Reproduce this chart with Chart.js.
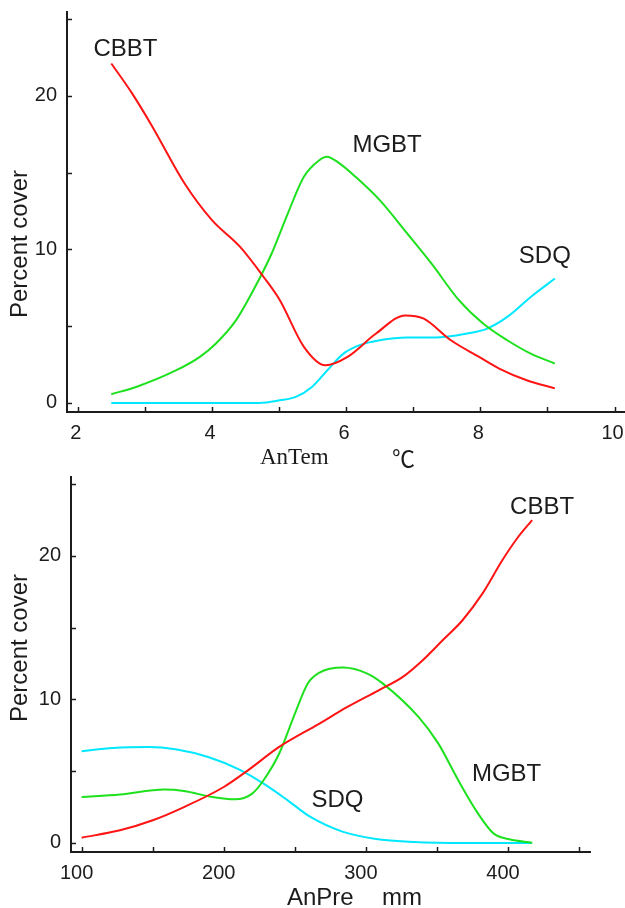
<!DOCTYPE html>
<html>
<head>
<meta charset="utf-8">
<script src="https://cdn.jsdelivr.net/npm/chart.js@4.4.1/dist/chart.umd.min.js"></script>
<style>
  html, body { margin: 0; padding: 0; background: #fff; }
  .box { position: absolute; left: 0; width: 625px; }
  #top { top: 0; height: 470px; }
  #bottom { top: 470px; height: 438px; }
</style>
</head>
<body>
<div class="box" id="top"><canvas id="temChart"></canvas></div>
<div class="box" id="bottom"><canvas id="preChart"></canvas></div>
<script>
// annual temperature panel (x in degrees C, y percent cover)
const temCbbtX = [2.5, 2.81, 3.11, 3.59, 4.0, 4.42, 4.77, 5.01, 5.37, 5.69, 6.02, 6.44, 6.88, 7.15, 7.56, 7.98, 8.28, 8.69, 9.11];
const temCbbtY = [22.1, 20.15, 18.0, 14.3, 11.9, 10.16, 8.2, 6.7, 3.65, 2.45, 3.0, 4.5, 5.7, 5.5, 4.08, 3.0, 2.24, 1.48, 0.95];
const temMgbtX = [2.5, 2.87, 3.47, 3.82, 4.06, 4.36, 4.59, 4.89, 5.13, 5.37, 5.6, 5.71, 5.9, 6.14, 6.5, 6.91, 7.27, 7.68, 8.04, 8.4, 8.75, 9.11];
const temMgbtY = [0.57, 1.04, 2.13, 3.0, 3.87, 5.39, 7.12, 9.73, 12.33, 14.72, 15.8, 16.03, 15.6, 14.72, 13.2, 11.03, 9.08, 6.69, 5.17, 4.08, 3.21, 2.56];
const temSdqX = [2.5, 3.5, 4.71, 5.01, 5.25, 5.49, 5.72, 5.96, 6.2, 6.5, 6.91, 7.33, 7.8, 8.1, 8.4, 8.75, 9.11];
const temSdqY = [0, 0, 0, 0.17, 0.39, 1.04, 2.13, 3.21, 3.76, 4.08, 4.26, 4.26, 4.52, 4.84, 5.6, 6.9, 8.1];

// annual precipitation panel (x in mm)
const preCbbtX = [100, 127, 150, 172, 200, 217, 239, 267, 287, 309, 326, 340, 354, 368, 382, 396, 407, 417];
const preCbbtY = [0.37, 0.88, 1.58, 2.5, 3.9, 5.06, 6.69, 8.3, 9.48, 10.64, 11.57, 12.73, 14.12, 15.52, 17.37, 19.7, 21.3, 22.5];
const preMgbtX = [100, 127, 158, 172, 192, 208, 220, 228, 239, 250, 259, 267, 284, 301, 312, 337, 351, 365, 379, 390, 401, 417];
const preMgbtY = [3.2, 3.37, 3.72, 3.62, 3.2, 3.04, 3.44, 4.37, 6.23, 9.0, 11.1, 11.85, 12.22, 11.8, 11.1, 8.78, 6.92, 4.37, 2.04, 0.65, 0.26, 0.02];
const preSdqX = [100, 122, 147, 166, 189, 211, 228, 245, 261, 284, 306, 334, 370, 417];
const preSdqY = [6.39, 6.62, 6.69, 6.53, 5.99, 5.11, 4.13, 2.97, 1.81, 0.77, 0.3, 0.07, 0, 0];

const yLabelTicks = [0, 10, 20];
const temLabelTicks = [2, 4, 6, 8, 10];
const preLabelTicks = [100, 200, 300, 400];

const RED = 'rgb(255,20,20)';
const GREEN = 'rgb(30,225,30)';
const CYAN = 'rgb(0,232,255)';
const INK = '#1c1c1c';
const SANS = '"Liberation Sans", Arial, sans-serif';

Chart.defaults.font.family = SANS;
Chart.defaults.color = INK;

const pts = (xs, ys) => xs.map((x, i) => ({x: x, y: ys[i]}));

const line = (label, xs, ys, color) => ({
    label: label,
    data: pts(xs, ys),
    borderColor: color,
    borderWidth: 2,
    pointRadius: 0,
    fill: false,
    cubicInterpolationMode: 'monotone',
});

// tick marks point into the plot, like the printed figure
const inwardTicks = {
    id: 'inwardTicks',
    afterDraw(chart) {
        const ctx = chart.ctx;
        const area = chart.chartArea;
        ctx.save();
        ctx.strokeStyle = INK;
        ctx.lineWidth = 1.5;
        chart.scales.x.ticks.forEach(t => {
            const px = Math.round(chart.scales.x.getPixelForValue(t.value)) + 0.5;
            ctx.beginPath();
            ctx.moveTo(px, area.bottom);
            ctx.lineTo(px, area.bottom - 5);
            ctx.stroke();
        });
        chart.scales.y.ticks.forEach(t => {
            const py = Math.round(chart.scales.y.getPixelForValue(t.value)) + 0.5;
            ctx.beginPath();
            ctx.moveTo(area.left, py);
            ctx.lineTo(area.left + 5, py);
            ctx.stroke();
        });
        ctx.restore();
    }
};

// curve names sit next to their lines, at data coordinates
const curveNames = {
    id: 'curveNames',
    afterDraw(chart, args, opts) {
        const ctx = chart.ctx;
        ctx.save();
        ctx.fillStyle = INK;
        ctx.font = '24px ' + SANS;
        ctx.textAlign = 'center';
        ctx.textBaseline = 'middle';
        (opts.items || []).forEach(it => {
            ctx.fillText(it.text, chart.scales.x.getPixelForValue(it.x), chart.scales.y.getPixelForValue(it.y));
        });
        ctx.restore();
    }
};

// axis titles, drawn in canvas pixels
const axisTitles = {
    id: 'axisTitles',
    afterDraw(chart, args, opts) {
        const ctx = chart.ctx;
        (opts.items || []).forEach(it => {
            ctx.save();
            ctx.fillStyle = INK;
            ctx.font = it.font;
            ctx.textAlign = it.align || 'left';
            ctx.textBaseline = 'middle';
            ctx.translate(it.x, it.y);
            if (it.rotate) ctx.rotate(it.rotate);
            ctx.fillText(it.text, 0, 0);
            ctx.restore();
        });
    }
};

function makeChart(canvasId, datasets, cfg) {
    return new Chart(document.getElementById(canvasId), {
        type: 'line',
        data: {datasets: datasets},
        options: {
            responsive: true,
            maintainAspectRatio: false,
            animation: false,
            devicePixelRatio: 1,
            layout: {padding: cfg.padding},
            plugins: {
                legend: {display: false},
                tooltip: {enabled: false},
                curveNames: {items: cfg.names},
                axisTitles: {items: cfg.titles},
            },
            scales: {
                x: {
                    type: 'linear',
                    min: cfg.xMin,
                    max: cfg.xMax,
                    grid: {display: false, drawTicks: false},
                    border: {display: true, color: INK, width: 2},
                    ticks: {
                        stepSize: cfg.xStep,
                        includeBounds: false,
                        autoSkip: false,
                        maxRotation: 0,
                        padding: 9,
                        labelOffset: cfg.xLabelOffset,
                        font: {size: 20},
                        callback: v => cfg.xLabels.includes(v) ? String(v) : '',
                    },
                    afterFit: s => {
                        s.height = cfg.xHeight;
                        s.paddingLeft = 0;
                        s.paddingRight = 0;
                    },
                },
                y: {
                    type: 'linear',
                    min: cfg.yMin,
                    max: cfg.yMax,
                    grid: {display: false, drawTicks: false},
                    border: {display: true, color: INK, width: 2},
                    ticks: {
                        stepSize: 5,
                        includeBounds: false,
                        autoSkip: false,
                        padding: 10,
                        font: {size: 20},
                        callback: v => yLabelTicks.includes(v) ? String(v) : '',
                    },
                    afterFit: s => {
                        s.width = cfg.yWidth;
                        s.paddingTop = 0;
                        s.paddingBottom = 0;
                    },
                },
            },
        },
        plugins: [inwardTicks, curveNames, axisTitles],
    });
}

makeChart('temChart', [
    line('CBBT', temCbbtX, temCbbtY, RED),
    line('MGBT', temMgbtX, temMgbtY, GREEN),
    line('SDQ', temSdqX, temSdqY, CYAN),
], {
    padding: {top: 12, right: 1, left: 0, bottom: 0},
    xMin: 1.84, xMax: 10.14, xStep: 1, xLabels: temLabelTicks, xLabelOffset: -2,
    yMin: -0.59, yMax: 25.45,
    xHeight: 58, yWidth: 67,
    names: [
        {text: 'CBBT', x: 2.71, y: 23.0},
        {text: 'MGBT', x: 6.61, y: 16.74},
        {text: 'SDQ', x: 8.96, y: 9.51},
    ],
    titles: [
        {text: 'AnTem', x: 260, y: 458, font: '23px "Liberation Serif", "Times New Roman", serif'},
        {text: '℃', x: 392, y: 458, font: '23px "Noto Sans CJK SC", "Liberation Serif", serif'},
        {text: 'Percent cover', x: 20, y: 244, align: 'center', rotate: -Math.PI / 2, font: '24px ' + SANS},
    ],
});

makeChart('preChart', [
    line('CBBT', preCbbtX, preCbbtY, RED),
    line('MGBT', preMgbtX, preMgbtY, GREEN),
    line('SDQ', preSdqX, preSdqY, CYAN),
], {
    padding: {top: 7, right: 35, left: 0, bottom: 0},
    xMin: 92.5, xMax: 457.7, xStep: 50, xLabels: preLabelTicks, xLabelOffset: -5,
    yMin: -0.63, yMax: 25.5,
    xHeight: 56, yWidth: 71,
    names: [
        {text: 'CBBT', x: 424, y: 23.37},
        {text: 'MGBT', x: 399, y: 4.79},
        {text: 'SDQ', x: 280, y: 2.97},
    ],
    titles: [
        {text: 'AnPre', x: 287, y: 428, font: '24px ' + SANS},
        {text: 'mm', x: 382, y: 428, font: '24px ' + SANS},
        {text: 'Percent cover', x: 20, y: 178, align: 'center', rotate: -Math.PI / 2, font: '24px ' + SANS},
    ],
});
</script>
</body>
</html>
